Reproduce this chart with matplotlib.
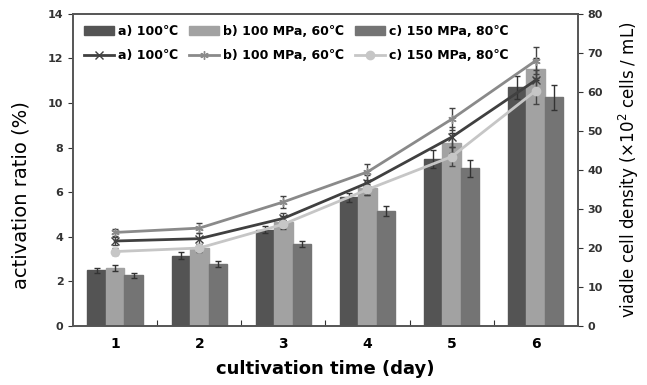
import matplotlib.pyplot as plt
import numpy as np

days = ["1", "2", "3", "4", "5", "6"]
labels = ["a) 100\u2103", "b) 100 MPa, 60\u2103", "c) 150 MPa, 80\u2103"]

# activation ratio (%) - bars
ratio_a = [2.5, 3.15, 4.33, 5.78, 7.48, 10.7]
ratio_b = [2.6, 3.5, 4.68, 6.18, 8.2, 11.52]
ratio_c = [2.27, 2.78, 3.68, 5.17, 7.07, 10.26]
ratio_err_a = [0.1, 0.15, 0.15, 0.2, 0.4, 0.5]
ratio_err_b = [0.12, 0.15, 0.25, 0.3, 0.45, 0.5]
ratio_err_c = [0.12, 0.12, 0.15, 0.22, 0.38, 0.55]

# viable cell density (x10^2 cells/mL) - lines
dens_a = [21.8, 22.4, 27.6, 36.7, 48.4, 63.0]
dens_b = [24.0, 25.1, 31.8, 39.5, 53.0, 68.0]
dens_c = [19.1, 20.0, 26.1, 35.0, 43.4, 60.3]
dens_err_a = [1.0, 1.5, 1.5, 2.0, 2.5, 2.5]
dens_err_b = [1.0, 1.2, 1.5, 2.0, 2.8, 3.4]
dens_err_c = [0.8, 1.0, 1.2, 1.5, 2.5, 3.3]

bar_colors = ["#545454", "#a2a2a2", "#747474"]
line_colors = ["#404040", "#8a8a8a", "#c6c6c6"]

plt.rcParams["font.family"] = ["DejaVu Sans"]
fig = plt.figure(figsize=(6.47, 3.85), dpi=100)
ax = fig.add_axes([0.113, 0.153, 0.78, 0.811])
ax2 = ax.twinx()

x = np.arange(len(days)) + 0.5
w = 0.22
bars = []
for i, (vals, errs) in enumerate(zip([ratio_a, ratio_b, ratio_c],
                                      [ratio_err_a, ratio_err_b, ratio_err_c])):
    b = ax.bar(x + (i - 1) * w, vals, w, color=bar_colors[i], edgecolor=bar_colors[i],
               yerr=errs, capsize=2.5, error_kw=dict(ecolor="#333333", elinewidth=1, capthick=1),
               label=labels[i], zorder=2)
    bars.append(b)

markers = ["x", (6, 2, 0), "o"]
lines = []
for i, (vals, errs) in enumerate(zip([dens_a, dens_b, dens_c],
                                      [dens_err_a, dens_err_b, dens_err_c])):
    ax2.errorbar(x, vals, yerr=errs, color=line_colors[i], ecolor="#444444", elinewidth=1,
                 capsize=2.5, capthick=1, lw=2, marker=markers[i], ms=6, zorder=3)
    l, = ax2.plot([], [], color=line_colors[i], lw=2, marker=markers[i], ms=6, label=labels[i])
    lines.append(l)

ax.set_xlim(0, 6)
ax.set_ylim(0, 14)
ax2.set_ylim(0, 80)
ax.set_yticks(range(0, 15, 2))
ax2.set_yticks(range(0, 81, 10))
ax.set_xticks(np.arange(1, 6))
ax.set_xticklabels([])
ax.set_xticks(x, minor=True)
ax.set_xticklabels(days, minor=True)
ax.tick_params(axis="x", which="major", direction="in", length=4)
ax.tick_params(axis="x", which="minor", length=0, pad=8)
ax.tick_params(axis="both", labelsize=8, colors="#333333")
ax2.tick_params(axis="y", labelsize=8, colors="#333333")
for lab in ax.get_xticklabels(minor=True) + ax.get_yticklabels() + ax2.get_yticklabels():
    lab.set_fontweight("bold")
for a in (ax, ax2):
    for s in a.spines.values():
        s.set_color("#555555")
        s.set_linewidth(1.2)

ax.set_xlabel("cultivation time (day)", fontsize=13, fontweight="bold", labelpad=6)
ax.set_ylabel("activation ratio (%)", fontsize=14)
ax.yaxis.set_label_coords(-0.085, 0.42)
ax2.set_ylabel("viadle cell density (\u00d710$^2$ cells / mL)", fontsize=12, labelpad=10)

handles = [bars[0], lines[0], bars[1], lines[1], bars[2], lines[2]]
ax.legend(handles, [labels[0]] * 2 + [labels[1]] * 2 + [labels[2]] * 2, ncol=3,
          loc="upper left", bbox_to_anchor=(0.0, 1.0), frameon=False,
          prop=dict(size=9, weight="bold"), columnspacing=0.9, handlelength=2.4,
          handletextpad=0.3, labelspacing=0.9)

fig.savefig("out.png", dpi=100)
